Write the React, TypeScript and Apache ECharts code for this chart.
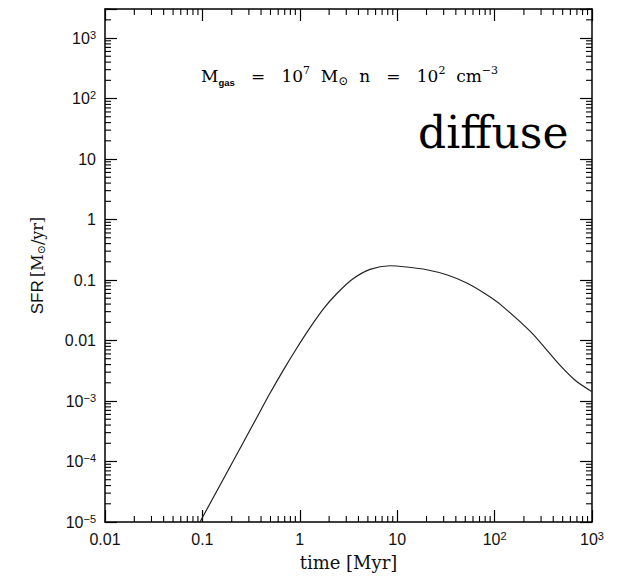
import React, { useEffect, useRef } from "react";
import * as echarts from "echarts";

// ---- data ----
const TIME_MYR = [0.0944, 0.2, 0.4, 0.494, 0.678, 0.929, 1.27, 1.74, 2.39, 3.44, 5.26, 8.43, 12.5, 20.1, 32.2, 51.8, 83.0, 113.5, 238, 458, 676, 1000];
const SFR = [1e-5, 9.2e-5, 7.18e-4, 1.34e-3, 3.24e-3, 7.46e-3, 0.0162, 0.0331, 0.0592, 0.102, 0.150, 0.172, 0.164, 0.148, 0.122, 0.0891, 0.0571, 0.0399, 0.0136, 0.00406, 0.00218, 0.00142];

// axis ranges (log10 units)
const X_MIN = -2;
const X_MAX = 3;
const Y_MIN = -5;
const Y_MAX = 3.48;

const X_TICK_VALUES = [-2, -1, 0, 1, 2, 3];
const X_TICK_LABELS = ["0.01", "0.1", "1", "10", "10{sup|2}", "10{sup|3}"];
const Y_TICK_VALUES = [-5, -4, -3, -2, -1, 0, 1, 2, 3];
const Y_TICK_LABELS = ["10{sup|−5}", "10{sup|−4}", "10{sup|−3}", "0.01", "0.1", "1", "10", "10{sup|2}", "10{sup|3}"];

const MINOR_MULTIPLIERS = [2, 3, 4, 5, 6, 7, 8, 9];

const X_TITLE = "time [Myr]";
const ANNOTATION = "{t|M}{sub|gas}{t|   =   10}{sup|7}{t|  M}{odot|⊙}{t|  n   =   10}{sup|2}{t|  cm}{sup|−3}";
const REGIME = "diffuse";

function minorTicks(lo: number, hi: number): number[] {
  const out: number[] = [];
  for (let d = Math.floor(lo); d < hi; d++) {
    for (const k of MINOR_MULTIPLIERS) {
      const v = d + Math.log10(k);
      if (v > lo && v < hi) out.push(v);
    }
  }
  return out;
}

function labelFor(values: number[], labels: string[], v: number): string {
  const i = values.findIndex((x) => Math.abs(x - v) < 1e-6);
  return i >= 0 ? labels[i] : "";
}

const SANS = "'Liberation Sans', Arial, Helvetica, sans-serif";
const SERIF = "'DejaVu Serif', 'Liberation Serif', serif";

export default function App() {
  const ref = useRef<HTMLDivElement>(null);

  useEffect(() => {
    if (!ref.current) return;
    const chart = echarts.init(ref.current, undefined, { renderer: "svg" });

    const lineData = TIME_MYR.map((t, i) => [Math.log10(t), Math.log10(SFR[i])]);
    const xMinor = minorTicks(X_MIN, X_MAX).map((v) => [v, Y_MIN]);
    const yMinor = minorTicks(Y_MIN, Y_MAX).map((v) => [X_MIN, v]);

    const MAJOR = 12;
    const MINOR = 6;

    const labelRich = {
      sup: { fontSize: 11, lineHeight: 10, verticalAlign: "top" as const, fontFamily: SANS, color: "#111" },
    };

    const baseAxis = {
      type: "value" as const,
      axisLine: { show: true, onZero: false, lineStyle: { color: "#000", width: 1.5 } },
      axisTick: { show: true, inside: true, length: MAJOR, lineStyle: { color: "#000", width: 1.2 } },
      splitLine: { show: false },
    };

    const option: any = {
      animation: false,
      grid: { left: 105, right: 31, top: 9, bottom: 57, containLabel: false },
      xAxis: [
        {
          ...baseAxis,
          position: "bottom",
          min: X_MIN,
          max: X_MAX,
          interval: 1,
          name: X_TITLE,
          nameLocation: "middle",
          nameGap: 31,
          nameTextStyle: { fontFamily: SERIF, fontSize: 18, color: "#111" },
          axisLabel: {
            margin: 8,
            fontFamily: SANS,
            fontSize: 16,
            color: "#111",
            lineHeight: 18,
            formatter: (v: number) => labelFor(X_TICK_VALUES, X_TICK_LABELS, v),
            rich: labelRich,
          },
        },
        {
          ...baseAxis,
          position: "top",
          min: X_MIN,
          max: X_MAX,
          interval: 1,
          axisLabel: { show: false },
        },
      ],
      yAxis: [
        {
          ...baseAxis,
          position: "left",
          min: Y_MIN,
          max: Y_MAX,
          interval: 1,
          name: "{s|SFR} {r|[M}{o|⊙}{r|/yr]}",
          nameLocation: "middle",
          nameGap: 58,
          nameRotate: 90,
          nameTextStyle: {
            color: "#111",
            rich: {
              s: { fontFamily: SANS, fontSize: 17, color: "#111", lineHeight: 20 },
              r: { fontFamily: SERIF, fontSize: 16, color: "#111", lineHeight: 20 },
              o: { fontFamily: SERIF, fontSize: 11, color: "#111", lineHeight: 12, verticalAlign: "bottom" },
            },
          },
          axisLabel: {
            margin: 9,
            fontFamily: SANS,
            fontSize: 16,
            color: "#111",
            lineHeight: 18,
            formatter: (v: number) => labelFor(Y_TICK_VALUES, Y_TICK_LABELS, v),
            rich: labelRich,
          },
        },
        {
          ...baseAxis,
          position: "right",
          min: Y_MIN,
          max: Y_MAX,
          interval: 1,
          axisLabel: { show: false },
        },
      ],
      graphic: [
        {
          type: "text",
          silent: true,
          style: {
            x: 201,
            y: 76,
            verticalAlign: "middle",
            text: ANNOTATION,
            rich: {
              t: { fontFamily: SERIF, fontSize: 17, color: "#111", lineHeight: 22 },
              sub: { fontFamily: SANS, fontSize: 9.5, fontWeight: "bold", color: "#111", lineHeight: 12, verticalAlign: "bottom" },
              sup: { fontFamily: SERIF, fontSize: 11, color: "#111", lineHeight: 12, verticalAlign: "top" },
              odot: { fontFamily: SERIF, fontSize: 12, color: "#111", lineHeight: 12, verticalAlign: "bottom" },
            },
          },
        },
        {
          type: "text",
          silent: true,
          style: {
            x: 418,
            y: 132,
            verticalAlign: "middle",
            text: REGIME,
            fontFamily: SERIF,
            fontSize: 44,
            fill: "#000",
          },
        },
      ],
      series: [
        {
          type: "line",
          data: lineData,
          smooth: 0.25,
          showSymbol: false,
          symbol: "none",
          lineStyle: { color: "#222", width: 1.2 },
          clip: true,
          silent: true,
        },
        {
          type: "custom",
          silent: true,
          clip: false,
          data: xMinor,
          renderItem: (_p: any, api: any) => {
            const x = api.value(0);
            const b = api.coord([x, Y_MIN]);
            const t = api.coord([x, Y_MAX]);
            const s = { stroke: "#000", lineWidth: 1.1 };
            return {
              type: "group",
              children: [
                { type: "line", shape: { x1: b[0], y1: b[1], x2: b[0], y2: b[1] - MINOR }, style: s },
                { type: "line", shape: { x1: t[0], y1: t[1], x2: t[0], y2: t[1] + MINOR }, style: s },
              ],
            };
          },
        },
        {
          type: "custom",
          silent: true,
          clip: false,
          data: yMinor,
          renderItem: (_p: any, api: any) => {
            const y = api.value(1);
            const l = api.coord([X_MIN, y]);
            const r = api.coord([X_MAX, y]);
            const s = { stroke: "#000", lineWidth: 1.1 };
            return {
              type: "group",
              children: [
                { type: "line", shape: { x1: l[0], y1: l[1], x2: l[0] + MINOR, y2: l[1] }, style: s },
                { type: "line", shape: { x1: r[0], y1: r[1], x2: r[0] - MINOR, y2: r[1] }, style: s },
              ],
            };
          },
        },
      ],
    };

    chart.setOption(option);
    return () => chart.dispose();
  }, []);

  return (
    <div
      ref={ref}
      style={{ position: "fixed", left: 0, top: 0, width: 623, height: 579, background: "#fff" }}
    />
  );
}
